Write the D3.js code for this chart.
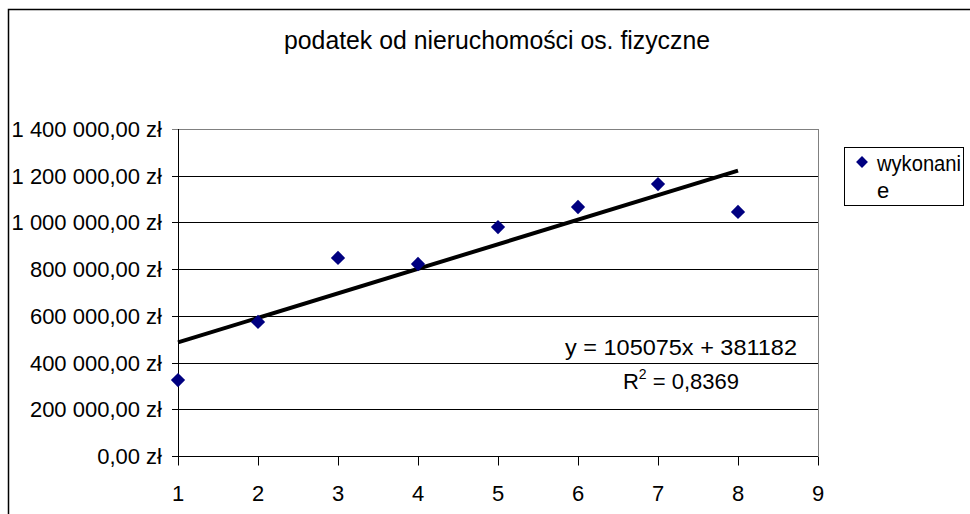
<!DOCTYPE html>
<html>
<head>
<meta charset="utf-8">
<script src="https://cdn.jsdelivr.net/npm/d3@7"></script>
<style>
  body { margin: 0; background: #fff; }
  svg { display: block; font-family: "Liberation Sans", Arial, sans-serif; }
</style>
</head>
<body>
<svg width="970" height="514"></svg>
<script>
// data
const years = [1, 2, 3, 4, 5, 6, 7, 8];
const wykonanie = [325000, 574000, 848000, 822000, 980000, 1066000, 1164000, 1045000];
const yTicks = [0, 200000, 400000, 600000, 800000, 1000000, 1200000, 1400000];
const xTicks = [1, 2, 3, 4, 5, 6, 7, 8, 9];
const trendCoef = [105075, 381182]; // slope, intercept
const r2 = "0,8369";

const svg = d3.select("svg");

// chart frame (cut off on the right and bottom)
svg.append("rect")
  .attr("x", 8.5).attr("y", 9.5)
  .attr("width", 1000).attr("height", 600)
  .attr("fill", "#fff").attr("stroke", "#000").attr("stroke-width", 1.5);

const plotL = 178, plotR = 818, plotT = 129, plotB = 456;

let x = d3.scaleLinear().domain([1, 9]).range([plotL, plotR]);
let y = d3.scaleLinear().domain([0, 1400000]).range([plotB, plotT]);

// title
svg.append("text")
  .attr("x", 497).attr("y", 49)
  .attr("text-anchor", "middle")
  .attr("font-size", 25)
  .attr("textLength", 426).attr("lengthAdjust", "spacingAndGlyphs")
  .text("podatek od nieruchomości os. fizyczne");

// gridlines
svg.append("g").selectAll("line")
  .data(yTicks.slice(1))
  .join("line")
  .attr("x1", plotL - 6).attr("x2", plotR)
  .attr("y1", d => Math.round(y(d)) + 0.5).attr("y2", d => Math.round(y(d)) + 0.5)
  .attr("stroke", d => d === 1400000 ? "#808080" : "#000")
  .attr("stroke-width", 1);

// right edge of plot area
svg.append("line")
  .attr("x1", plotR + 0.5).attr("x2", plotR + 0.5)
  .attr("y1", plotT).attr("y2", plotB)
  .attr("stroke", "#808080");

// y axis labels
const fmt = v => {
  let s = d3.format(",.2f")(v).replace(/,/g, " ").replace(".", ",");
  return s + " zł";
};
svg.append("g").selectAll("text")
  .data(yTicks)
  .join("text")
  .attr("x", 162)
  .attr("y", d => y(d) + 8)
  .attr("text-anchor", "end")
  .attr("font-size", 22)
  .text(fmt);

// axes lines
let xAxis = d3.axisBottom(x).tickValues(xTicks).tickSize(9).tickFormat("");
svg.append("g")
  .attr("transform", `translate(0,${plotB + 0.5})`)
  .call(xAxis)
  .call(g => g.select(".domain").attr("d", `M${plotL - 6},0H${plotR}`))
  .call(g => g.selectAll("line").attr("stroke", "#000"));

svg.append("line")
  .attr("x1", plotL + 0.5).attr("x2", plotL + 0.5)
  .attr("y1", plotT).attr("y2", plotB + 9)
  .attr("stroke", "#000");

svg.append("g").selectAll("text")
  .data(xTicks)
  .join("text")
  .attr("x", d => x(d))
  .attr("y", 501)
  .attr("text-anchor", "middle")
  .attr("font-size", 22)
  .text(d => d);

// trendline
const trend = [years[0], years[years.length - 1]].map(v => [v, trendCoef[0] * v + trendCoef[1]]);
svg.append("path")
  .datum(trend)
  .attr("d", d3.line().x(d => x(d[0])).y(d => y(d[1])))
  .attr("stroke", "#000").attr("stroke-width", 4).attr("fill", "none");

// points
const diamond = d3.symbol().type(d3.symbolDiamond2).size(130);
svg.append("g").selectAll("path")
  .data(years.map((v, i) => [v, wykonanie[i]]))
  .join("path")
  .attr("transform", d => `translate(${x(d[0])},${y(d[1])})`)
  .attr("d", diamond)
  .attr("fill", "#000080");

// equation
svg.append("text")
  .attr("x", 681).attr("y", 355)
  .attr("text-anchor", "middle")
  .attr("font-size", 22)
  .attr("textLength", 232).attr("lengthAdjust", "spacingAndGlyphs")
  .text(`y = ${trendCoef[0]}x + ${trendCoef[1]}`);

let r2t = svg.append("text")
  .attr("x", 681).attr("y", 389)
  .attr("text-anchor", "middle")
  .attr("font-size", 22);
r2t.append("tspan").text("R");
r2t.append("tspan").attr("font-size", 14).attr("dy", -10).text("2");
r2t.append("tspan").attr("dy", 10).text(" = " + r2);

// legend
svg.append("rect")
  .attr("x", 844.5).attr("y", 147.5)
  .attr("width", 119).attr("height", 58)
  .attr("fill", "#fff").attr("stroke", "#000");
svg.append("path")
  .attr("transform", "translate(862,162)")
  .attr("d", d3.symbol().type(d3.symbolDiamond2).size(90))
  .attr("fill", "#000080");
svg.append("text").attr("x", 877).attr("y", 171).attr("font-size", 22)
  .attr("textLength", 84).attr("lengthAdjust", "spacingAndGlyphs").text("wykonani");
svg.append("text").attr("x", 877).attr("y", 198).attr("font-size", 22).text("e");
</script>
</body>
</html>
